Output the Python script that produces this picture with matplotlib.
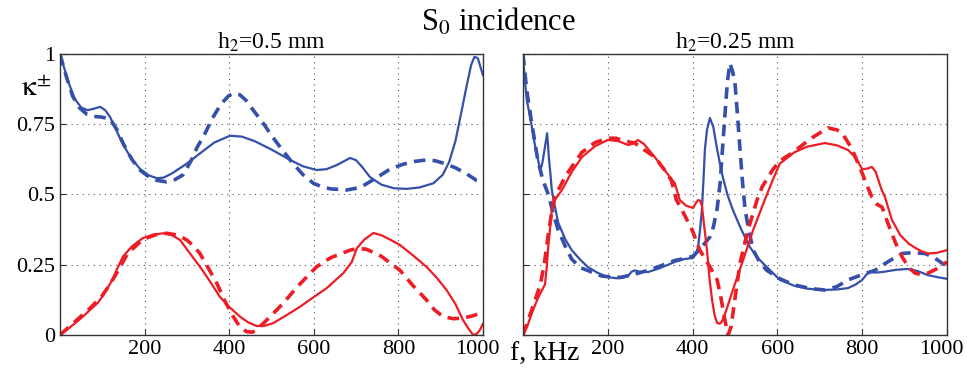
import numpy as np
import matplotlib
matplotlib.use('Agg')
import matplotlib.pyplot as plt
import matplotlib.transforms as mtransforms

plt.rcParams['font.family'] = ['Liberation Serif', 'DejaVu Serif']
plt.rcParams['mathtext.fontset'] = 'stix'

# left panel, h2 = 0.5 mm  (f in kHz, kappa)
l_blue_sol_f = [0, 10, 20, 35, 50, 65, 80, 95, 107, 118, 130, 145, 160, 173, 190, 210, 229, 245, 265, 300, 330, 365, 402, 430, 460, 500, 544, 575, 607, 630, 655, 686, 700, 715, 733, 760, 790, 820, 850, 883, 905, 920, 935, 950, 962, 972, 980, 988, 995, 1000]
l_blue_sol_k = [1.0, 0.95, 0.9, 0.84, 0.81, 0.8, 0.805, 0.812, 0.8, 0.777, 0.74, 0.69, 0.65, 0.62, 0.59, 0.568, 0.558, 0.56, 0.575, 0.61, 0.645, 0.685, 0.709, 0.706, 0.69, 0.66, 0.623, 0.6, 0.587, 0.59, 0.605, 0.63, 0.622, 0.597, 0.562, 0.535, 0.522, 0.52, 0.525, 0.54, 0.57, 0.615, 0.69, 0.8, 0.89, 0.96, 0.99, 0.985, 0.95, 0.925]
l_blue_das_f = [0, 15, 30, 45, 64, 80, 95, 118, 135, 150, 170, 189, 210, 230, 252, 272, 291, 310, 325, 339, 360, 380, 398, 410, 425, 440, 457, 480, 500, 525, 551, 575, 599, 620, 640, 678, 710, 749, 780, 810, 840, 867, 887, 910, 935, 960, 985, 1000]
l_blue_das_k = [1.0, 0.92, 0.85, 0.81, 0.785, 0.778, 0.776, 0.77, 0.73, 0.68, 0.625, 0.587, 0.563, 0.55, 0.545, 0.553, 0.57, 0.62, 0.67, 0.705, 0.77, 0.82, 0.85, 0.86, 0.855, 0.835, 0.8, 0.755, 0.71, 0.66, 0.61, 0.57, 0.54, 0.527, 0.52, 0.516, 0.525, 0.56, 0.59, 0.607, 0.618, 0.623, 0.62, 0.61, 0.595, 0.575, 0.55, 0.545]
l_red_sol_f = [0, 30, 50, 71, 90, 110, 125, 135, 149, 170, 196, 220, 244, 265, 284, 305, 331, 355, 378, 400, 426, 445, 465, 485, 504, 535, 567, 600, 630, 670, 690, 702, 720, 741, 760, 780, 804, 835, 867, 890, 914, 935, 953, 967, 977, 985, 993, 1000]
l_red_sol_k = [0.0, 0.035, 0.06, 0.089, 0.115, 0.16, 0.2, 0.235, 0.279, 0.315, 0.345, 0.357, 0.362, 0.355, 0.338, 0.295, 0.243, 0.19, 0.136, 0.1, 0.065, 0.045, 0.032, 0.033, 0.042, 0.07, 0.1, 0.135, 0.166, 0.22, 0.26, 0.309, 0.34, 0.363, 0.355, 0.34, 0.32, 0.283, 0.242, 0.205, 0.16, 0.11, 0.053, 0.02, 0.0, 0.003, 0.018, 0.04]
l_red_das_f = [0, 30, 71, 100, 118, 134, 160, 196, 225, 252, 280, 300, 315, 331, 350, 371, 390, 410, 425, 441, 455, 465, 480, 500, 528, 560, 607, 640, 686, 705, 725, 760, 804, 835, 867, 885, 906, 930, 953, 975, 1000]
l_red_das_k = [0.0, 0.04, 0.095, 0.14, 0.18, 0.22, 0.29, 0.34, 0.356, 0.362, 0.355, 0.338, 0.318, 0.29, 0.24, 0.184, 0.12, 0.065, 0.03, 0.012, 0.01, 0.018, 0.04, 0.07, 0.113, 0.17, 0.243, 0.275, 0.302, 0.308, 0.305, 0.28, 0.23, 0.175, 0.124, 0.09, 0.065, 0.058, 0.06, 0.068, 0.08]

# right panel, h2 = 0.25 mm
r_blue_sol_f = [0, 5, 9, 15, 21, 30, 40, 44, 47, 52, 57, 59, 61, 65, 68, 75, 83, 100, 115, 135, 153, 175, 200, 220, 233, 248, 256, 264, 275, 295, 323, 358, 380, 401, 408, 413, 418, 422, 426, 429, 434, 441, 449, 458, 469, 482, 495, 515, 535, 555, 575, 606, 640, 670, 705, 740, 767, 785, 800, 810, 818, 830, 847, 880, 908, 930, 955, 980, 1000]
r_blue_sol_k = [0.99, 0.9, 0.836, 0.79, 0.74, 0.66, 0.594, 0.6, 0.623, 0.67, 0.718, 0.68, 0.633, 0.57, 0.516, 0.46, 0.4, 0.34, 0.302, 0.268, 0.242, 0.222, 0.206, 0.202, 0.203, 0.21, 0.225, 0.23, 0.225, 0.224, 0.238, 0.26, 0.27, 0.274, 0.29, 0.313, 0.38, 0.445, 0.56, 0.658, 0.73, 0.772, 0.74, 0.66, 0.576, 0.5, 0.445, 0.375, 0.313, 0.272, 0.242, 0.196, 0.175, 0.165, 0.16, 0.162, 0.167, 0.18, 0.196, 0.215, 0.224, 0.222, 0.224, 0.232, 0.235, 0.228, 0.213, 0.205, 0.2]
r_blue_das_f = [0, 9, 20, 35, 47, 59, 70, 83, 100, 115, 135, 162, 185, 208, 230, 260, 295, 323, 358, 380, 401, 420, 441, 449, 458, 465, 470, 476, 482, 488, 494, 500, 506, 512, 518, 524, 533, 543, 558, 575, 606, 640, 680, 712, 740, 767, 800, 830, 860, 894, 920, 948, 970, 988, 1000]
r_blue_das_k = [1.0, 0.87, 0.76, 0.623, 0.55, 0.504, 0.44, 0.374, 0.315, 0.27, 0.24, 0.224, 0.21, 0.206, 0.205, 0.215, 0.23, 0.245, 0.265, 0.272, 0.28, 0.31, 0.349, 0.384, 0.45, 0.54, 0.65, 0.776, 0.9, 0.967, 0.94, 0.897, 0.78, 0.658, 0.54, 0.445, 0.37, 0.302, 0.26, 0.23, 0.2, 0.178, 0.165, 0.16, 0.172, 0.196, 0.215, 0.23, 0.26, 0.29, 0.293, 0.29, 0.275, 0.256, 0.245]
r_red_sol_f = [0, 10, 21, 35, 45, 52, 56, 59, 64, 68, 75, 92, 115, 139, 170, 200, 225, 248, 258, 271, 285, 311, 340, 358, 370, 385, 401, 408, 413, 418, 422, 428, 434, 440, 446, 452, 458, 464, 469, 480, 495, 520, 543, 570, 590, 606, 640, 670, 712, 740, 767, 785, 800, 812, 823, 832, 845, 854, 870, 890, 910, 925, 940, 955, 975, 1000]
r_red_sol_k = [0.0, 0.03, 0.078, 0.13, 0.16, 0.18, 0.24, 0.302, 0.38, 0.445, 0.48, 0.516, 0.58, 0.633, 0.672, 0.694, 0.69, 0.676, 0.68, 0.694, 0.68, 0.633, 0.575, 0.54, 0.48, 0.46, 0.452, 0.47, 0.48, 0.478, 0.46, 0.38, 0.302, 0.2, 0.125, 0.07, 0.043, 0.04, 0.047, 0.09, 0.16, 0.27, 0.374, 0.48, 0.555, 0.61, 0.65, 0.67, 0.683, 0.675, 0.658, 0.63, 0.59, 0.592, 0.598, 0.58, 0.52, 0.49, 0.41, 0.355, 0.325, 0.31, 0.298, 0.29, 0.292, 0.302]
r_red_das_f = [0, 21, 41, 50, 59, 67, 75, 100, 139, 170, 200, 220, 240, 264, 285, 311, 335, 350, 362, 375, 400, 417, 440, 458, 466, 472, 478, 484, 491, 500, 512, 530, 552, 564, 590, 606, 634, 680, 719, 740, 752, 775, 800, 812, 823, 835, 847, 860, 878, 894, 910, 925, 940, 955, 975, 990, 1000]
r_red_das_k = [0.0, 0.09, 0.18, 0.25, 0.35, 0.43, 0.49, 0.565, 0.65, 0.685, 0.7, 0.7, 0.69, 0.683, 0.66, 0.633, 0.585, 0.55, 0.48, 0.445, 0.37, 0.302, 0.245, 0.196, 0.14, 0.089, 0.04, 0.0, 0.03, 0.13, 0.256, 0.37, 0.48, 0.527, 0.59, 0.62, 0.647, 0.7, 0.737, 0.73, 0.72, 0.665, 0.576, 0.53, 0.49, 0.465, 0.455, 0.4, 0.33, 0.278, 0.24, 0.22, 0.215, 0.22, 0.235, 0.25, 0.26]

blue = '#3550a8'
red = '#ee1c24'

fig = plt.figure(figsize=(9.67, 3.72), dpi=100)
ax1 = fig.add_axes([0.062, 0.0995, 0.4374, 0.7554])
ax2 = fig.add_axes([0.5408, 0.0995, 0.4385, 0.7554])

panels = [
    (ax1, l_blue_sol_f, l_blue_sol_k, l_blue_das_f, l_blue_das_k, l_red_sol_f, l_red_sol_k, l_red_das_f, l_red_das_k),
    (ax2, r_blue_sol_f, r_blue_sol_k, r_blue_das_f, r_blue_das_k, r_red_sol_f, r_red_sol_k, r_red_das_f, r_red_das_k),
]
for ax, bsf, bsk, bdf, bdk, rsf, rsk, rdf, rdk in panels:
    ax.plot(bsf, bsk, color=blue, lw=1.6, solid_joinstyle='round')
    ax.plot(bdf, bdk, color=blue, lw=2.6, dashes=(3.2, 2.0))
    ax.plot(rsf, rsk, color=red, lw=1.6, solid_joinstyle='round')
    ax.plot(rdf, rdk, color=red, lw=2.6, dashes=(3.2, 2.0))
    ax.set_xlim(0, 1000)
    ax.set_ylim(0, 1)
    ax.set_xticks([200, 400, 600, 800, 1000])
    ax.set_yticks([0, 0.25, 0.5, 0.75, 1])
    ax.grid(True, linestyle=(0, (1, 4)), color='#555555', lw=0.8)
    ax.tick_params(direction='in', length=4, labelsize=16, color='#333333')
    for s in ax.spines.values():
        s.set_color('#333333')
        s.set_linewidth(1.0)

ax1.set_yticklabels(['0', '0.25', '0.5', '0.75', '1'])
ax2.set_yticklabels([])

# the "1000" labels sit a little left of their tick, as in the original
shift = mtransforms.ScaledTranslation(-6 / 100, 0, fig.dpi_scale_trans)
for ax in (ax1, ax2):
    lab = ax.get_xticklabels()[-1]
    lab.set_transform(lab.get_transform() + shift)

ax1.set_title('h$_2$=0.5 mm', fontsize=17, pad=3)
ax2.set_title('h$_2$=0.25 mm', fontsize=17, pad=3)
fig.text(0.516, 0.94, 'S$_0$ incidence', fontsize=22, ha='center', va='center')
fig.text(0.022, 0.76, r'$\mathrm{\kappa}^{\pm}$', fontsize=21, ha='left', va='center')
fig.text(0.527, 0.05, 'f, kHz', fontsize=20, ha='left', va='center')

fig.savefig('out.png', dpi=100)
